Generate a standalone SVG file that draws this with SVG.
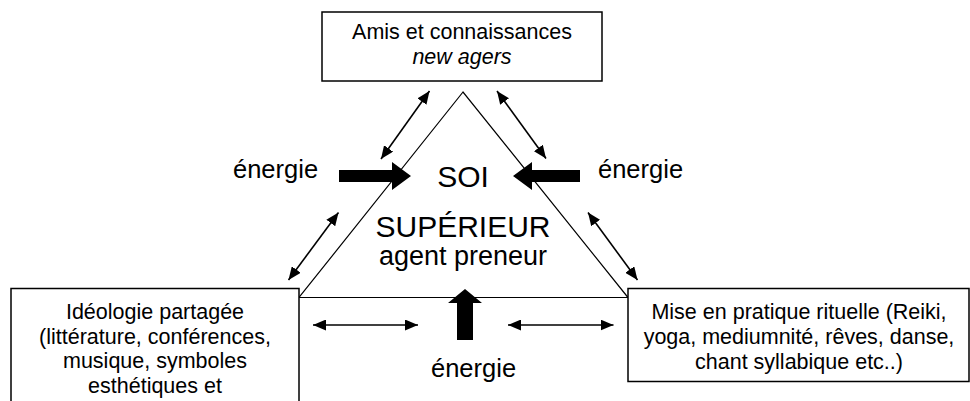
<svg xmlns="http://www.w3.org/2000/svg" width="970" height="401" viewBox="0 0 970 401">
<defs>
<style>
text{font-family:"Liberation Sans",Arial,sans-serif;fill:#000}
.box{fill:#fff;stroke:#000;stroke-width:1.5}
.bt{font-size:21.5px;text-anchor:middle}
.en{font-size:25.5px}
.big{font-size:30px;text-anchor:middle}
.tri{fill:none;stroke:#000;stroke-width:1.2}
.dbl{stroke:#000;stroke-width:1.6;marker-start:url(#ah);marker-end:url(#ah)}
.thick{fill:#000}
</style>
<marker id="ah" viewBox="0 0 13 11" refX="13" refY="5.5" markerWidth="13" markerHeight="11" markerUnits="userSpaceOnUse" orient="auto-start-reverse">
<path d="M0,0 L13,5.5 L0,11 z" fill="#000"/>
</marker>
</defs>
<rect width="970" height="401" fill="#fff"/>
<g id="soi">
<polygon class="tri" points="463,92 299,297.5 628,297.5"/>
<text class="big" x="463" y="187">SOI</text>
<text class="big" x="463" y="237">SUPÉRIEUR</text>
<text x="463" y="265" style="font-size:27px;text-anchor:middle">agent preneur</text>
</g>
<g id="amis">
<rect class="box" x="322" y="12" width="280" height="69"/>
<text class="bt" x="462" y="39">Amis et connaissances</text>
<text class="bt" x="462" y="63.5" font-style="italic">new agers</text>
</g>
<g id="ideologie">
<rect class="box" x="11" y="288.5" width="288" height="130"/>
<text class="bt" x="155" y="319">Idéologie partagée</text>
<text class="bt" x="155" y="343.5">(littérature, conférences,</text>
<text class="bt" x="155" y="368">musique, symboles</text>
<text class="bt" x="155" y="392.5">esthétiques et</text>
</g>
<g id="pratique">
<rect class="box" x="628" y="288.5" width="341" height="93"/>
<text class="bt" x="799" y="319.3">Mise en pratique rituelle (Reiki,</text>
<text class="bt" x="799" y="344.3">yoga, mediumnité, rêves, danse,</text>
<text class="bt" x="799" y="369.3">chant syllabique etc..)</text>
</g>
<g id="energie-labels">
<text class="en" x="233" y="178">énergie</text>
<text class="en" x="598" y="178">énergie</text>
<text class="en" x="431" y="377">énergie</text>
</g>
<g id="connectors">
<line class="dbl" x1="381" y1="159" x2="429.5" y2="91"/>
<line class="dbl" x1="497" y1="91" x2="546" y2="158.5"/>
<line class="dbl" x1="288.5" y1="280" x2="338.5" y2="212.5"/>
<line class="dbl" x1="588" y1="212.5" x2="637.5" y2="280"/>
<line class="dbl" x1="313" y1="325" x2="418" y2="325"/>
<line class="dbl" x1="508" y1="325" x2="613.5" y2="325"/>
<polygon class="thick" points="339,170 392,170 392,162 411,176 392,190 392,182 339,182"/>
<polygon class="thick" points="580,170 532,170 532,162 513,176 532,190 532,182 580,182"/>
<polygon class="thick" points="457,340 457,303 448,303 465,289 482,303 473,303 473,340"/>
</g>
</svg>
